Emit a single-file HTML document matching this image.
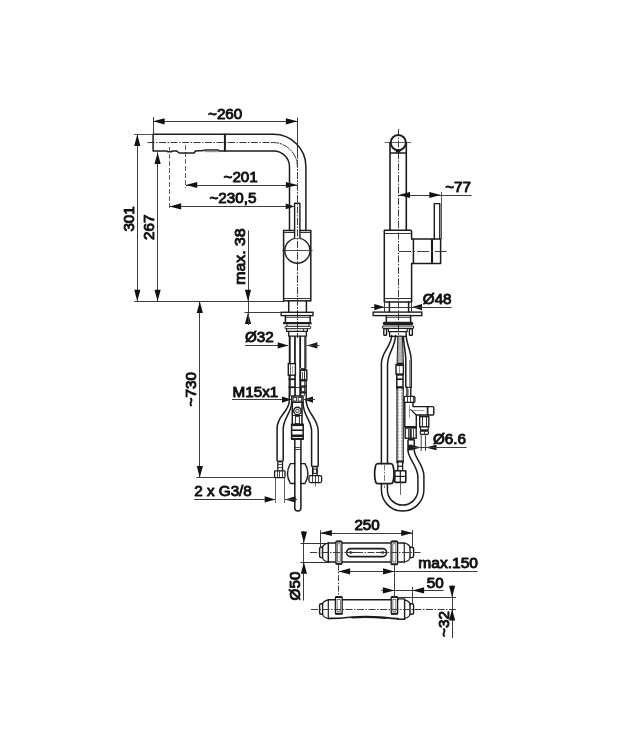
<!DOCTYPE html>
<html><head><meta charset="utf-8"><title>Dimension drawing</title>
<style>
html,body{margin:0;padding:0;background:#fff;}
body{width:642px;height:750px;overflow:hidden;font-family:"Liberation Sans",sans-serif;}
svg{display:block;}
text{font-family:"Liberation Sans",sans-serif;fill:#111;stroke:#111;stroke-width:0.9px;stroke-linejoin:round;}
svg{will-change:transform;}
</style></head><body>
<svg width="642" height="750" viewBox="0 0 642 750">
<rect width="642" height="750" fill="#fff"/>
<line x1="134" y1="134.5" x2="153" y2="134.5" stroke="#555" stroke-width="1.0" stroke-linecap="butt"/>
<line x1="153.5" y1="117" x2="153.5" y2="134" stroke="#3c3c3c" stroke-width="1.0" stroke-linecap="butt"/>
<line x1="297.5" y1="117.6" x2="297.5" y2="157" stroke="#3c3c3c" stroke-width="1.0" stroke-linecap="butt"/>
<line x1="153.1" y1="121.5" x2="297.4" y2="121.5" stroke="#3c3c3c" stroke-width="1.0" stroke-linecap="butt"/>
<polygon points="153.1,121.3 164.6,118.2 164.6,124.39999999999999" fill="#111"/>
<polygon points="297.4,121.3 285.9,118.2 285.9,124.39999999999999" fill="#111"/>
<line x1="185.7" y1="185.5" x2="297.4" y2="185.5" stroke="#3c3c3c" stroke-width="1.0" stroke-linecap="butt"/>
<polygon points="185.7,185 197.2,181.9 197.2,188.1" fill="#111"/>
<polygon points="297.4,185 285.9,181.9 285.9,188.1" fill="#111"/>
<line x1="169.6" y1="206.5" x2="294.8" y2="206.5" stroke="#3c3c3c" stroke-width="1.0" stroke-linecap="butt"/>
<polygon points="169.6,206.4 181.1,203.3 181.1,209.5" fill="#111"/>
<polygon points="294.5,206.4 285.7,203.6 285.7,209.20000000000002" fill="#111"/>
<line x1="185.5" y1="145" x2="185.5" y2="188" stroke="#3c3c3c" stroke-width="0.8" stroke-dasharray="5 2" stroke-linecap="butt"/>
<line x1="169.5" y1="147" x2="169.5" y2="209" stroke="#3c3c3c" stroke-width="0.8" stroke-dasharray="5 2" stroke-linecap="butt"/>
<line x1="137.5" y1="134.4" x2="137.5" y2="301.3" stroke="#3c3c3c" stroke-width="1.0" stroke-linecap="butt"/>
<polygon points="137.3,134.4 134.20000000000002,145.9 140.4,145.9" fill="#111"/>
<polygon points="137.3,301.3 134.20000000000002,289.8 140.4,289.8" fill="#111"/>
<line x1="157.5" y1="152.4" x2="157.5" y2="301.3" stroke="#3c3c3c" stroke-width="1.0" stroke-linecap="butt"/>
<polygon points="157.6,152.4 154.5,163.9 160.7,163.9" fill="#111"/>
<polygon points="157.6,301.3 154.5,289.8 160.7,289.8" fill="#111"/>
<line x1="134.3" y1="301.5" x2="284" y2="301.5" stroke="#3c3c3c" stroke-width="1.0" stroke-linecap="butt"/>
<line x1="199.5" y1="301.6" x2="199.5" y2="477.4" stroke="#3c3c3c" stroke-width="1.0" stroke-linecap="butt"/>
<polygon points="199.8,301.6 196.70000000000002,313.1 202.9,313.1" fill="#111"/>
<polygon points="199.8,477.4 196.70000000000002,465.9 202.9,465.9" fill="#111"/>
<line x1="196.5" y1="477.5" x2="275" y2="477.5" stroke="#3c3c3c" stroke-width="1.0" stroke-linecap="butt"/>
<line x1="248.5" y1="230.5" x2="248.5" y2="312.3" stroke="#3c3c3c" stroke-width="1.0" stroke-linecap="butt"/>
<polygon points="248,301.2 244.9,289.7 251.1,289.7" fill="#111"/>
<line x1="244.5" y1="312.5" x2="282" y2="312.5" stroke="#3c3c3c" stroke-width="1.0" stroke-linecap="butt"/>
<polygon points="248,312.5 244.9,324.0 251.1,324.0" fill="#111"/>
<line x1="248.5" y1="312.5" x2="248.5" y2="325" stroke="#3c3c3c" stroke-width="1.0" stroke-linecap="butt"/>
<line x1="245" y1="345.5" x2="288" y2="345.5" stroke="#3c3c3c" stroke-width="1.0" stroke-linecap="butt"/>
<polygon points="288.2,345.4 277.7,342.29999999999995 277.7,348.5" fill="#111"/>
<polygon points="306.9,345.4 317.4,342.29999999999995 317.4,348.5" fill="#111"/>
<line x1="306.9" y1="345.5" x2="319.5" y2="345.5" stroke="#3c3c3c" stroke-width="1.0" stroke-linecap="butt"/>
<line x1="232" y1="399.5" x2="291" y2="399.5" stroke="#3c3c3c" stroke-width="1.0" stroke-linecap="butt"/>
<polygon points="291.5,399.6 282.0,396.5 282.0,402.70000000000005" fill="#111"/>
<polygon points="303.5,399.6 313.0,396.5 313.0,402.70000000000005" fill="#111"/>
<line x1="303.5" y1="399.5" x2="315" y2="399.5" stroke="#3c3c3c" stroke-width="1.0" stroke-linecap="butt"/>
<line x1="194" y1="499.5" x2="275" y2="499.5" stroke="#3c3c3c" stroke-width="1.0" stroke-linecap="butt"/>
<polygon points="275.2,499.4 264.7,496.29999999999995 264.7,502.5" fill="#111"/>
<polygon points="285,499.4 295.5,496.29999999999995 295.5,502.5" fill="#111"/>
<line x1="285" y1="499.5" x2="297" y2="499.5" stroke="#3c3c3c" stroke-width="1.0" stroke-linecap="butt"/>
<line x1="275.5" y1="477" x2="275.5" y2="503" stroke="#3c3c3c" stroke-width="0.8" stroke-linecap="butt"/>
<line x1="284.5" y1="477" x2="284.5" y2="503" stroke="#3c3c3c" stroke-width="0.8" stroke-linecap="butt"/>
<line x1="297.5" y1="126" x2="297.5" y2="338" stroke="#3c3c3c" stroke-width="1.0" stroke-dasharray="7 1.5 1.5 1.5" stroke-linecap="butt"/>
<line x1="147.5" y1="142.5" x2="272" y2="142.5" stroke="#3c3c3c" stroke-width="1.0" stroke-dasharray="7 1.5 1.5 1.5" stroke-linecap="butt"/>
<path d="M272,142.5 H273.5 A24.3,24.3 0 0 1 297.4,166.8" stroke="#3c3c3c" stroke-width="1.0" fill="none" stroke-dasharray="7 1.5 1.5 1.5" stroke-linejoin="round" stroke-linecap="round"/>
<line x1="282.5" y1="250.5" x2="312.5" y2="250.5" stroke="#3c3c3c" stroke-width="0.7" stroke-linecap="butt"/>
<path d="M224.9,134.3 H153.1 V150.9 H166.5 L167.6,151.7 H171.4 L172.2,150.9 H176.5 L179.3,153 H194 L195.5,151 L203.9,150.6 L205.5,150 H217.8 L219.3,150.9 H224.9" stroke="#1c1c1c" stroke-width="1.5" fill="none" stroke-linejoin="round" stroke-linecap="round"/>
<line x1="205" y1="151.5" x2="218.5" y2="151.5" stroke="#999" stroke-width="1.4" stroke-linecap="butt"/>
<line x1="224.9" y1="134.3" x2="224.9" y2="150.9" stroke="#1c1c1c" stroke-width="2.0" stroke-linecap="butt"/>
<path d="M224.9,134.3 H273.5 A32.4,32.4 0 0 1 305.9,166.8 V230.5" stroke="#1c1c1c" stroke-width="1.5" fill="none" stroke-linejoin="round" stroke-linecap="round"/>
<path d="M224.9,150.9 H273.5 A15.9,15.9 0 0 1 289.5,166.8 V230.5" stroke="#1c1c1c" stroke-width="1.5" fill="none" stroke-linejoin="round" stroke-linecap="round"/>
<rect x="283.6" y="230.5" width="27.19999999999999" height="70.30000000000001" rx="0" stroke="#1c1c1c" stroke-width="1.5" fill="none"/>
<line x1="283.6" y1="232.5" x2="310.8" y2="232.5" stroke="#1c1c1c" stroke-width="0.9" stroke-linecap="butt"/>
<line x1="283.6" y1="298.5" x2="310.8" y2="298.5" stroke="#1c1c1c" stroke-width="0.9" stroke-linecap="butt"/>
<circle cx="297.4" cy="250.7" r="12.6" stroke="#1c1c1c" stroke-width="1.4" fill="none"/>
<path d="M294.6,238.6 V203.3 H299.9 V238.6 Z" stroke="#1c1c1c" stroke-width="1.4" fill="#fff" stroke-linejoin="round" stroke-linecap="round"/>
<line x1="294.6" y1="239.2" x2="299.9" y2="239.2" stroke="#fff" stroke-width="1.2" stroke-linecap="butt"/>
<line x1="297.5" y1="126" x2="297.5" y2="338" stroke="#3c3c3c" stroke-width="1.0" stroke-dasharray="7 1.5 1.5 1.5" stroke-linecap="butt"/>
<line x1="282.5" y1="250.5" x2="312.5" y2="250.5" stroke="#3c3c3c" stroke-width="0.7" stroke-linecap="butt"/>
<path d="M288.7,300.8 V312.3 M306.4,300.8 V312.3" stroke="#1c1c1c" stroke-width="1.5" fill="none" stroke-linejoin="round" stroke-linecap="round"/>
<rect x="281.2" y="312.3" width="31.80000000000001" height="3.3000000000000114" rx="0" stroke="#1c1c1c" stroke-width="1.4" fill="none"/>
<path d="M285.4,315.6 V322 M310.2,315.6 V322" stroke="#1c1c1c" stroke-width="1.5" fill="none" stroke-linejoin="round" stroke-linecap="round"/>
<line x1="285.4" y1="317.5" x2="310.2" y2="317.5" stroke="#1c1c1c" stroke-width="0.7" stroke-linecap="butt"/>
<line x1="283.1" y1="323.1" x2="311.6" y2="323.1" stroke="#1c1c1c" stroke-width="2.2" stroke-linecap="butt"/>
<path d="M287,324.2 V326.3 M309,324.2 V326.3" stroke="#1c1c1c" stroke-width="0.9" fill="none" stroke-linejoin="round" stroke-linecap="round"/>
<rect x="285" y="326.3" width="25.69999999999999" height="2.3999999999999773" rx="0.8" stroke="#1c1c1c" stroke-width="1.0" fill="none"/>
<path d="M286.6,328.7 V331.4 H307.4 V328.7" stroke="#1c1c1c" stroke-width="1.15" fill="none" stroke-linejoin="round" stroke-linecap="round"/>
<path d="M288.7,331.4 V336.2 H306.4 V331.4" stroke="#1c1c1c" stroke-width="1.3" fill="none" stroke-linejoin="round" stroke-linecap="round"/>
<line x1="303.5" y1="329" x2="303.5" y2="331.4" stroke="#1c1c1c" stroke-width="0.8" stroke-linecap="butt"/>
<line x1="289.4" y1="336.2" x2="289.4" y2="364" stroke="#1c1c1c" stroke-width="1.3" stroke-linecap="butt"/>
<line x1="294.7" y1="336.2" x2="294.7" y2="364" stroke="#1c1c1c" stroke-width="1.3" stroke-linecap="butt"/>
<line x1="300.4" y1="336.2" x2="300.4" y2="368" stroke="#1c1c1c" stroke-width="1.3" stroke-linecap="butt"/>
<line x1="305.8" y1="336.2" x2="305.8" y2="368" stroke="#1c1c1c" stroke-width="1.3" stroke-linecap="butt"/>
<line x1="290.5" y1="336.2" x2="290.5" y2="396" stroke="#1c1c1c" stroke-width="0.7" stroke-linecap="butt"/>
<line x1="295.5" y1="336.2" x2="295.5" y2="396" stroke="#1c1c1c" stroke-width="0.7" stroke-linecap="butt"/>
<line x1="299.5" y1="336.2" x2="299.5" y2="396" stroke="#1c1c1c" stroke-width="0.7" stroke-linecap="butt"/>
<line x1="304.5" y1="336.2" x2="304.5" y2="396" stroke="#1c1c1c" stroke-width="0.7" stroke-linecap="butt"/>
<rect x="288.3" y="363.6" width="7.099999999999966" height="11.599999999999966" rx="0" stroke="#1c1c1c" stroke-width="1.4" fill="none"/>
<line x1="288.6" y1="379.2" x2="295.2" y2="379.2" stroke="#1c1c1c" stroke-width="1.8" stroke-linecap="butt"/>
<line x1="288.6" y1="387.2" x2="295.2" y2="387.2" stroke="#1c1c1c" stroke-width="1.8" stroke-linecap="butt"/>
<path d="M289.3,375.2 V396 M294.9,375.2 V396" stroke="#1c1c1c" stroke-width="1.4" fill="none" stroke-linejoin="round" stroke-linecap="round"/>
<line x1="292.5" y1="366" x2="292.5" y2="373.4" stroke="#999" stroke-width="0.8" stroke-linecap="butt"/>
<line x1="300.4" y1="369.2" x2="306.4" y2="369.2" stroke="#1c1c1c" stroke-width="2.0" stroke-linecap="butt"/>
<rect x="300.4" y="370.2" width="6.400000000000034" height="9.600000000000023" rx="0" stroke="#1c1c1c" stroke-width="1.4" fill="none"/>
<line x1="300.6" y1="380.6" x2="306.6" y2="380.6" stroke="#1c1c1c" stroke-width="1.7" stroke-linecap="butt"/>
<line x1="300.6" y1="386.1" x2="306.6" y2="386.1" stroke="#1c1c1c" stroke-width="1.5" stroke-linecap="butt"/>
<line x1="300.6" y1="392.6" x2="306.6" y2="392.6" stroke="#1c1c1c" stroke-width="1.7" stroke-linecap="butt"/>
<path d="M300.6,380 V396 M306.2,380 V401" stroke="#1c1c1c" stroke-width="1.4" fill="none" stroke-linejoin="round" stroke-linecap="round"/>
<line x1="302.5" y1="372" x2="302.5" y2="379" stroke="#1c1c1c" stroke-width="0.7" stroke-linecap="butt"/>
<line x1="304.5" y1="372" x2="304.5" y2="379" stroke="#1c1c1c" stroke-width="0.7" stroke-linecap="butt"/>
<rect x="301.6" y="387.5" width="3.3999999999999773" height="3.8999999999999773" rx="0" stroke="#1c1c1c" stroke-width="0.8" fill="none"/>
<line x1="295.9" y1="387.5" x2="299.9" y2="387.5" stroke="#1c1c1c" stroke-width="0.8" stroke-linecap="butt"/>
<rect x="291.8" y="396" width="11.199999999999989" height="6.199999999999989" rx="0" stroke="#1c1c1c" stroke-width="1.5" fill="none"/>
<rect x="293.2" y="397.5" width="3.400000000000034" height="3.5" rx="0" stroke="#1c1c1c" stroke-width="0.8" fill="none"/>
<rect x="298.2" y="397.5" width="3.400000000000034" height="3.5" rx="0" stroke="#1c1c1c" stroke-width="0.8" fill="none"/>
<path d="M289.3,396 V401.6 C288.5,412 277.1,416 277.1,428 V460.5" stroke="#1c1c1c" stroke-width="1.5" fill="none" stroke-linejoin="round" stroke-linecap="round"/>
<path d="M291.8,402.2 C291.5,413 283.2,418 283.2,429 V460.5" stroke="#1c1c1c" stroke-width="1.5" fill="none" stroke-linejoin="round" stroke-linecap="round"/>
<path d="M306.2,401 C306.5,413 318.2,418 318.2,431 V466" stroke="#1c1c1c" stroke-width="1.5" fill="none" stroke-linejoin="round" stroke-linecap="round"/>
<path d="M303,402.2 C303,416 311.6,420 311.6,431 V466" stroke="#1c1c1c" stroke-width="1.5" fill="none" stroke-linejoin="round" stroke-linecap="round"/>
<path d="M292.3,402.2 V424.3 M302,402.2 V424.3" stroke="#1c1c1c" stroke-width="1.5" fill="none" stroke-linejoin="round" stroke-linecap="round"/>
<circle cx="297.4" cy="410.9" r="3.7" stroke="#1c1c1c" stroke-width="1.4" fill="none"/>
<circle cx="297.4" cy="410.9" r="1.7" stroke="#1c1c1c" stroke-width="0.9" fill="none"/>
<line x1="292.3" y1="415.5" x2="302" y2="415.5" stroke="#1c1c1c" stroke-width="1.0" stroke-linecap="butt"/>
<rect x="295.4" y="416.6" width="4.0" height="7.0" rx="0" stroke="#1c1c1c" stroke-width="0.9" fill="none"/>
<rect x="291.6" y="424.3" width="11.599999999999966" height="14.899999999999977" rx="0" stroke="#1c1c1c" stroke-width="1.5" fill="none"/>
<line x1="291.6" y1="425.2" x2="303.2" y2="425.2" stroke="#1c1c1c" stroke-width="1.8" stroke-linecap="butt"/>
<line x1="292" y1="430.2" x2="303" y2="430.2" stroke="#1c1c1c" stroke-width="1.6" stroke-linecap="butt"/>
<line x1="292" y1="435.8" x2="303" y2="435.8" stroke="#1c1c1c" stroke-width="2.6" stroke-linecap="butt"/>
<line x1="292" y1="438.6" x2="303" y2="438.6" stroke="#1c1c1c" stroke-width="1.2" stroke-linecap="butt"/>
<path d="M294.8,439.2 V507.9 A3.05,3.05 0 0 0 300.9,507.9 V439.2" stroke="#1c1c1c" stroke-width="1.5" fill="none" stroke-linejoin="round" stroke-linecap="round"/>
<line x1="295" y1="447.5" x2="300.4" y2="447.5" stroke="#1c1c1c" stroke-width="0.8" stroke-linecap="butt"/>
<line x1="295" y1="449.5" x2="300.4" y2="449.5" stroke="#1c1c1c" stroke-width="0.8" stroke-linecap="butt"/>
<line x1="277.3" y1="461.4" x2="283" y2="461.4" stroke="#1c1c1c" stroke-width="1.8" stroke-linecap="butt"/>
<path d="M277.8,462 V470.5 M282.5,462 V470.5" stroke="#1c1c1c" stroke-width="1.3" fill="none" stroke-linejoin="round" stroke-linecap="round"/>
<line x1="278" y1="464.5" x2="282.3" y2="464.5" stroke="#1c1c1c" stroke-width="0.7" stroke-linecap="butt"/>
<line x1="278" y1="467.5" x2="282.3" y2="467.5" stroke="#1c1c1c" stroke-width="0.7" stroke-linecap="butt"/>
<rect x="274.6" y="470.8" width="10.399999999999977" height="6.800000000000011" rx="0.8" stroke="#1c1c1c" stroke-width="1.3" fill="none"/>
<line x1="277.5" y1="471" x2="277.5" y2="477.4" stroke="#1c1c1c" stroke-width="0.8" stroke-linecap="butt"/>
<line x1="279.5" y1="471" x2="279.5" y2="477.4" stroke="#1c1c1c" stroke-width="0.8" stroke-linecap="butt"/>
<line x1="282.5" y1="471" x2="282.5" y2="477.4" stroke="#1c1c1c" stroke-width="0.8" stroke-linecap="butt"/>
<line x1="311.8" y1="466.5" x2="318" y2="466.5" stroke="#1c1c1c" stroke-width="1.6" stroke-linecap="butt"/>
<path d="M312.6,467 V475.4 M317.2,467 V475.4" stroke="#1c1c1c" stroke-width="1.3" fill="none" stroke-linejoin="round" stroke-linecap="round"/>
<rect x="313.2" y="469" width="3.400000000000034" height="4.399999999999977" rx="0" stroke="#1c1c1c" stroke-width="1.0" fill="none"/>
<rect x="309" y="475.6" width="12.600000000000023" height="7.0" rx="1.5" stroke="#1c1c1c" stroke-width="1.3" fill="none"/>
<line x1="312.5" y1="476" x2="312.5" y2="482.4" stroke="#1c1c1c" stroke-width="0.8" stroke-linecap="butt"/>
<line x1="315.5" y1="476" x2="315.5" y2="482.4" stroke="#1c1c1c" stroke-width="0.8" stroke-linecap="butt"/>
<line x1="318.5" y1="476" x2="318.5" y2="482.4" stroke="#1c1c1c" stroke-width="0.8" stroke-linecap="butt"/>
<line x1="315.5" y1="482.6" x2="315.5" y2="486.5" stroke="#3c3c3c" stroke-width="0.7" stroke-linecap="butt"/>
<path d="M294.8,463.6 H290.4 Q284.6,473.5 290.4,483.5 H294.8 M300.9,463.6 H305 Q310.8,473.5 305,483.5 H300.9" stroke="#1c1c1c" stroke-width="1.4" fill="none" stroke-linejoin="round" stroke-linecap="round"/>
<line x1="398.5" y1="129" x2="398.5" y2="337" stroke="#3c3c3c" stroke-width="1.0" stroke-dasharray="7 1.5 1.5 1.5" stroke-linecap="butt"/>
<line x1="384.7" y1="142.5" x2="411.2" y2="142.5" stroke="#3c3c3c" stroke-width="0.8" stroke-linecap="butt"/>
<circle cx="398.3" cy="142.6" r="7.6" stroke="#1c1c1c" stroke-width="1.9" fill="none"/>
<path d="M390,142.6 V230.3 M406.3,142.6 V230.3" stroke="#1c1c1c" stroke-width="1.6" fill="none" stroke-linejoin="round" stroke-linecap="round"/>
<line x1="390.3" y1="153" x2="406.3" y2="153" stroke="#1c1c1c" stroke-width="1.5" stroke-linecap="butt"/>
<line x1="395.8" y1="151.6" x2="400.4" y2="151.6" stroke="#1c1c1c" stroke-width="2.0" stroke-linecap="butt"/>
<line x1="398.5" y1="195.5" x2="471.4" y2="195.5" stroke="#3c3c3c" stroke-width="1.0" stroke-linecap="butt"/>
<polygon points="398.5,195 410.0,191.9 410.0,198.1" fill="#111"/>
<polygon points="440.8,195 429.3,191.9 429.3,198.1" fill="#111"/>
<line x1="441.5" y1="192" x2="441.5" y2="239" stroke="#555" stroke-width="1.0" stroke-linecap="butt"/>
<path d="M434.3,239 V203.6 H439.8 V239" stroke="#1c1c1c" stroke-width="1.4" fill="none" stroke-linejoin="round" stroke-linecap="round"/>
<path d="M411.6,239 V231.4 Q411.6,230.3 410.5,230.3 H384.3 V302 H411.6 V263.6" stroke="#1c1c1c" stroke-width="1.5" fill="none" stroke-linejoin="round" stroke-linecap="round"/>
<line x1="384.3" y1="233.5" x2="411.6" y2="233.5" stroke="#1c1c1c" stroke-width="0.9" stroke-linecap="butt"/>
<line x1="384.3" y1="298.5" x2="411.6" y2="298.5" stroke="#1c1c1c" stroke-width="0.9" stroke-linecap="butt"/>
<path d="M411.6,239 H440.6 V263.6 H411.6" stroke="#1c1c1c" stroke-width="1.5" fill="none" stroke-linejoin="round" stroke-linecap="round"/>
<line x1="413.4" y1="239" x2="413.4" y2="263.6" stroke="#1c1c1c" stroke-width="1.5" stroke-linecap="butt"/>
<line x1="432" y1="239" x2="432" y2="263.6" stroke="#1c1c1c" stroke-width="2.1" stroke-linecap="butt"/>
<line x1="399" y1="251.5" x2="446.7" y2="251.5" stroke="#3c3c3c" stroke-width="1.0" stroke-dasharray="12 2 2 2" stroke-linecap="butt"/>
<path d="M389.4,302 V312.1 M408.6,302 V312.1" stroke="#1c1c1c" stroke-width="1.5" fill="none" stroke-linejoin="round" stroke-linecap="round"/>
<rect x="373.2" y="312.1" width="48.60000000000002" height="3.5" rx="0" stroke="#1c1c1c" stroke-width="1.4" fill="none"/>
<path d="M386.3,315.6 V322.3 M410.6,315.6 V322.3" stroke="#1c1c1c" stroke-width="1.5" fill="none" stroke-linejoin="round" stroke-linecap="round"/>
<line x1="386.3" y1="317.5" x2="410.6" y2="317.5" stroke="#1c1c1c" stroke-width="0.7" stroke-linecap="butt"/>
<line x1="384.4" y1="323.4" x2="411.6" y2="323.4" stroke="#1c1c1c" stroke-width="3.2" stroke-linecap="round"/>
<rect x="382.6" y="326" width="31.0" height="2.3999999999999773" rx="0.8" stroke="#1c1c1c" stroke-width="1.1" fill="none"/>
<rect x="383.8" y="328.9" width="2.8000000000000114" height="6.300000000000011" rx="0.8" stroke="#1c1c1c" stroke-width="1.4" fill="none"/>
<rect x="409.4" y="328.9" width="3.0" height="6.300000000000011" rx="0.8" stroke="#1c1c1c" stroke-width="1.4" fill="none"/>
<path d="M388.4,328.6 V331.6 H407.2 V328.6" stroke="#1c1c1c" stroke-width="1.15" fill="none" stroke-linejoin="round" stroke-linecap="round"/>
<path d="M389.6,331.8 V336.4 H406.2 V331.8" stroke="#1c1c1c" stroke-width="1.4" fill="none" stroke-linejoin="round" stroke-linecap="round"/>
<line x1="384.5" y1="302" x2="384.5" y2="312.1" stroke="#3c3c3c" stroke-width="1.0" stroke-linecap="butt"/>
<line x1="411.5" y1="302" x2="411.5" y2="312.1" stroke="#3c3c3c" stroke-width="1.0" stroke-linecap="butt"/>
<line x1="384.3" y1="307.5" x2="412" y2="307.5" stroke="#3c3c3c" stroke-width="1.0" stroke-linecap="butt"/>
<line x1="371" y1="307.5" x2="384" y2="307.5" stroke="#3c3c3c" stroke-width="1.0" stroke-linecap="butt"/>
<polygon points="384.3,307.1 374.3,304.0 374.3,310.20000000000005" fill="#111"/>
<polygon points="412,307.1 422,304.0 422,310.20000000000005" fill="#111"/>
<line x1="412" y1="307.5" x2="451.5" y2="307.5" stroke="#3c3c3c" stroke-width="1.0" stroke-linecap="butt"/>
<path d="M391.8,335.6 C390.5,348 381.4,352 381.4,364 V463.7" stroke="#1c1c1c" stroke-width="1.5" fill="none" stroke-linejoin="round" stroke-linecap="round"/>
<path d="M395.6,335.6 C394.6,349 387.5,353 387.5,365 V463.8" stroke="#1c1c1c" stroke-width="1.5" fill="none" stroke-linejoin="round" stroke-linecap="round"/>
<path d="M406.2,336.4 C407,345 411.2,352 411.2,360 V387" stroke="#1c1c1c" stroke-width="1.5" fill="none" stroke-linejoin="round" stroke-linecap="round"/>
<path d="M403.4,336.4 C403.6,345 405.8,352 405.8,360 V387" stroke="#1c1c1c" stroke-width="1.5" fill="none" stroke-linejoin="round" stroke-linecap="round"/>
<line x1="409.5" y1="360" x2="409.5" y2="387" stroke="#555" stroke-width="0.7" stroke-linecap="butt"/>
<line x1="405.8" y1="387.5" x2="411.2" y2="387.5" stroke="#1c1c1c" stroke-width="1.0" stroke-linecap="butt"/>
<path d="M397.8,336.6 C397.8,345 397.2,355 397,365.6 H403.4 C403.2,355 402.8,345 402.4,336.6 Z" stroke="#1c1c1c" stroke-width="1.0" fill="#a8a8a8" stroke-linejoin="round" stroke-linecap="round"/>
<path d="M400,337 C400,346 400,356 400.2,365" stroke="#ddd" stroke-width="0.8" fill="none" stroke-dasharray="1.2 2.2" stroke-linejoin="round" stroke-linecap="round"/>
<line x1="397" y1="363.5" x2="403" y2="363.5" stroke="#1c1c1c" stroke-width="1.5" stroke-linecap="butt"/>
<rect x="396" y="364.7" width="7.399999999999977" height="9.400000000000034" rx="0" stroke="#1c1c1c" stroke-width="1.4" fill="none"/>
<line x1="399.5" y1="366" x2="399.5" y2="373" stroke="#888" stroke-width="0.9" stroke-linecap="butt"/>
<line x1="396.4" y1="374.9" x2="403.2" y2="374.9" stroke="#1c1c1c" stroke-width="1.6" stroke-linecap="butt"/>
<line x1="396.4" y1="379.2" x2="403.2" y2="379.2" stroke="#1c1c1c" stroke-width="1.7" stroke-linecap="butt"/>
<line x1="396.4" y1="387.3" x2="403.2" y2="387.3" stroke="#1c1c1c" stroke-width="2.3" stroke-linecap="butt"/>
<path d="M396.8,374.1 V388.5 M403,374.1 V388.5" stroke="#1c1c1c" stroke-width="1.5" fill="none" stroke-linejoin="round" stroke-linecap="round"/>
<path d="M397,388 V462.8 M403.2,388 V462.8" stroke="#1c1c1c" stroke-width="1.25" fill="none" stroke-linejoin="round" stroke-linecap="round"/>
<line x1="398.5" y1="389" x2="398.5" y2="462" stroke="#666" stroke-width="0.6" stroke-dasharray="2 1.2" stroke-linecap="butt"/>
<line x1="401.5" y1="389" x2="401.5" y2="462" stroke="#666" stroke-width="0.6" stroke-dasharray="2 1.2" stroke-linecap="butt"/>
<path d="M407,387 V396.4 M410.8,387 V396.4" stroke="#1c1c1c" stroke-width="1.4" fill="none" stroke-linejoin="round" stroke-linecap="round"/>
<line x1="408.5" y1="389" x2="408.5" y2="395" stroke="#888" stroke-width="0.8" stroke-linecap="butt"/>
<rect x="404.2" y="396.4" width="10.699999999999989" height="6.0" rx="1" stroke="#1c1c1c" stroke-width="1.3" fill="none"/>
<line x1="407.5" y1="396.8" x2="407.5" y2="402" stroke="#1c1c1c" stroke-width="0.8" stroke-linecap="butt"/>
<line x1="410.5" y1="396.8" x2="410.5" y2="402" stroke="#1c1c1c" stroke-width="0.8" stroke-linecap="butt"/>
<line x1="413.5" y1="396.8" x2="413.5" y2="402" stroke="#1c1c1c" stroke-width="0.8" stroke-linecap="butt"/>
<path d="M404.8,402.4 V426.7 M413,402.4 V406.6 H432.6 Q433.8,406.6 433.8,407.8 V413.8 Q433.8,415 432.6,415 H416.3 V426.7" stroke="#1c1c1c" stroke-width="1.45" fill="none" stroke-linejoin="round" stroke-linecap="round"/>
<line x1="427.6" y1="406.6" x2="427.6" y2="415" stroke="#1c1c1c" stroke-width="1.7" stroke-linecap="butt"/>
<path d="M410.6,409.6 L416.3,415" stroke="#1c1c1c" stroke-width="1.15" fill="none" stroke-linejoin="round" stroke-linecap="round"/>
<line x1="409.5" y1="405.2" x2="409.5" y2="418" stroke="#555" stroke-width="0.6" stroke-linecap="butt"/>
<line x1="411" y1="410.5" x2="424.5" y2="410.5" stroke="#555" stroke-width="0.6" stroke-linecap="butt"/>
<path d="M420.4,415 V416.6 M428,415 V416.6" stroke="#1c1c1c" stroke-width="1.15" fill="none" stroke-linejoin="round" stroke-linecap="round"/>
<rect x="419.7" y="416.6" width="9.100000000000023" height="10.199999999999989" rx="0" stroke="#1c1c1c" stroke-width="1.4" fill="none"/>
<line x1="422.5" y1="417" x2="422.5" y2="426.4" stroke="#1c1c1c" stroke-width="0.9" stroke-linecap="butt"/>
<line x1="426.5" y1="417" x2="426.5" y2="426.4" stroke="#1c1c1c" stroke-width="0.9" stroke-linecap="butt"/>
<path d="M420.4,426.8 V429.4 M428.2,426.8 V429.4" stroke="#1c1c1c" stroke-width="1.15" fill="none" stroke-linejoin="round" stroke-linecap="round"/>
<line x1="420.2" y1="430.2" x2="428.4" y2="430.2" stroke="#1c1c1c" stroke-width="1.8" stroke-linecap="butt"/>
<rect x="420.2" y="431.2" width="8.199999999999989" height="3.1999999999999886" rx="0.8" stroke="#1c1c1c" stroke-width="1.2" fill="none"/>
<line x1="424.5" y1="431.4" x2="424.5" y2="434.2" stroke="#1c1c1c" stroke-width="0.8" stroke-linecap="butt"/>
<path d="M421.2,434.6 V450.5 M425.5,434.6 V450.5" stroke="#444" stroke-width="1.0" fill="none" stroke-linejoin="round" stroke-linecap="round"/>
<rect x="405.2" y="426.7" width="11.0" height="11.5" rx="0" stroke="#1c1c1c" stroke-width="1.4" fill="none"/>
<line x1="405.4" y1="427.8" x2="416" y2="427.8" stroke="#1c1c1c" stroke-width="1.8" stroke-linecap="butt"/>
<line x1="408.5" y1="429" x2="408.5" y2="438" stroke="#1c1c1c" stroke-width="0.8" stroke-linecap="butt"/>
<line x1="410.6" y1="429" x2="410.6" y2="438" stroke="#1c1c1c" stroke-width="2.2" stroke-linecap="butt"/>
<line x1="413.5" y1="429" x2="413.5" y2="438" stroke="#1c1c1c" stroke-width="0.8" stroke-linecap="butt"/>
<line x1="407.8" y1="439.6" x2="414.6" y2="439.6" stroke="#1c1c1c" stroke-width="1.9" stroke-linecap="butt"/>
<path d="M408,440.4 V450.5 M414.3,440.4 V450.5" stroke="#1c1c1c" stroke-width="1.5" fill="none" stroke-linejoin="round" stroke-linecap="round"/>
<polygon points="421.2,447.5 410.7,444.8 410.7,450.2" fill="#111"/>
<polygon points="425.5,447.5 436.5,444.8 436.5,450.2" fill="#111"/>
<line x1="410" y1="447.5" x2="466.6" y2="447.5" stroke="#3c3c3c" stroke-width="1.0" stroke-linecap="butt"/>
<rect x="408.6" y="445.2" width="3.1999999999999886" height="4.600000000000023" rx="0" stroke="#1c1c1c" stroke-width="1.0" fill="#1c1c1c"/>
<path d="M381.4,483.8 V489.85 A21.25,21.25 0 0 0 423.9,489.85 V476 C423.9,465 414.6,458 414.3,450.5" stroke="#1c1c1c" stroke-width="1.5" fill="none" stroke-linejoin="round" stroke-linecap="round"/>
<path d="M387.4,483.8 V489.85 A15.25,15.25 0 0 0 417.9,489.85 V477 C417.9,466 408.3,459 408,450.5" stroke="#1c1c1c" stroke-width="1.5" fill="none" stroke-linejoin="round" stroke-linecap="round"/>
<path d="M378,463.7 H390.6 Q392.6,463.7 393,465.6 Q395,473.7 393,481.8 Q392.6,483.7 390.6,483.7 H378 Q376,483.7 375.6,481.8 Q373.6,473.7 375.6,465.6 Q376,463.7 378,463.7 Z" stroke="#1c1c1c" stroke-width="1.7" fill="none" stroke-linejoin="round" stroke-linecap="round"/>
<line x1="384.5" y1="464.5" x2="384.5" y2="488" stroke="#3c3c3c" stroke-width="0.7" stroke-dasharray="6 1.5 1.5 1.5" stroke-linecap="butt"/>
<line x1="396.8" y1="461.5" x2="403.4" y2="461.5" stroke="#1c1c1c" stroke-width="2.0" stroke-linecap="butt"/>
<path d="M397.8,462.5 V470.4 M402.6,462.5 V470.4" stroke="#1c1c1c" stroke-width="1.3" fill="none" stroke-linejoin="round" stroke-linecap="round"/>
<line x1="397.8" y1="466.2" x2="402.6" y2="466.2" stroke="#1c1c1c" stroke-width="1.2" stroke-linecap="butt"/>
<rect x="394.8" y="470.7" width="11.0" height="11.699999999999989" rx="0.6" stroke="#1c1c1c" stroke-width="1.6" fill="none"/>
<line x1="395" y1="476.4" x2="405.6" y2="476.4" stroke="#1c1c1c" stroke-width="1.2" stroke-linecap="butt"/>
<line x1="400.3" y1="471" x2="400.3" y2="482" stroke="#1c1c1c" stroke-width="1.2" stroke-linecap="butt"/>
<line x1="400.5" y1="482.4" x2="400.5" y2="494.8" stroke="#3c3c3c" stroke-width="0.8" stroke-linecap="butt"/>
<line x1="300.5" y1="543.5" x2="329" y2="543.5" stroke="#333" stroke-width="1.0" stroke-linecap="butt"/>
<line x1="300.5" y1="562.5" x2="329" y2="562.5" stroke="#333" stroke-width="1.0" stroke-linecap="butt"/>
<path d="M328.3,543 C324.6,543.6 322.4,546 322.4,547.8 M322.4,557.0 C322.4,559 324.6,561.4 328.3,562" stroke="#1c1c1c" stroke-width="1.25" fill="none" stroke-linejoin="round" stroke-linecap="round"/>
<path d="M404.3,543 C408,543.6 410.2,546 410.2,547.8 M410.2,557.0 C410.2,559 408,561.4 404.3,562" stroke="#1c1c1c" stroke-width="1.25" fill="none" stroke-linejoin="round" stroke-linecap="round"/>
<path d="M322.6,547.1999999999999 H321 Q319.6,547.1999999999999 319.6,548.6999999999999 V556.1 Q319.6,557.6 321,557.6 H322.6 Z" stroke="#1c1c1c" stroke-width="1.4" fill="none" stroke-linejoin="round" stroke-linecap="round"/>
<path d="M410,547.1999999999999 H412 Q413.6,547.1999999999999 413.6,548.6999999999999 V556.1 Q413.6,557.6 412,557.6 H410 Z" stroke="#1c1c1c" stroke-width="1.4" fill="none" stroke-linejoin="round" stroke-linecap="round"/>
<path d="M328.3,543 H404.3 M328.3,562 H404.3" stroke="#1c1c1c" stroke-width="1.6" fill="none" stroke-linejoin="round" stroke-linecap="round"/>
<line x1="328.3" y1="543" x2="328.3" y2="562" stroke="#1c1c1c" stroke-width="1.5" stroke-linecap="butt"/>
<line x1="404.3" y1="543" x2="404.3" y2="562" stroke="#1c1c1c" stroke-width="1.1" stroke-linecap="butt"/>
<rect x="335.9" y="541.2" width="6.0" height="23.0" rx="1.2" stroke="#1c1c1c" stroke-width="1.3" fill="#fff"/>
<line x1="336.5" y1="541.7" x2="341.29999999999995" y2="541.7" stroke="#1c1c1c" stroke-width="1.8" stroke-linecap="round"/>
<line x1="336.5" y1="563.7" x2="341.29999999999995" y2="563.7" stroke="#1c1c1c" stroke-width="1.8" stroke-linecap="round"/>
<rect x="337.59999999999997" y="543.8000000000001" width="2.6000000000000227" height="17.799999999999955" rx="0" stroke="#444" stroke-width="0.7" fill="none"/>
<rect x="391.1" y="541.2" width="6.5" height="23.399999999999977" rx="1.2" stroke="#1c1c1c" stroke-width="1.3" fill="#fff"/>
<line x1="391.70000000000005" y1="541.7" x2="397.0" y2="541.7" stroke="#1c1c1c" stroke-width="1.8" stroke-linecap="round"/>
<line x1="391.70000000000005" y1="564.1" x2="397.0" y2="564.1" stroke="#1c1c1c" stroke-width="1.8" stroke-linecap="round"/>
<rect x="392.8" y="543.8000000000001" width="3.1000000000000227" height="18.199999999999932" rx="0" stroke="#444" stroke-width="0.7" fill="none"/>
<rect x="346.6" y="548.6" width="40.0" height="8.0" rx="4" stroke="#1c1c1c" stroke-width="1.6" fill="none"/>
<polygon points="349.6,551 349.6,554 354.6,552.5" fill="#222"/><polygon points="383.6,551 383.6,554 378.6,552.5" fill="#222"/>
<line x1="349" y1="552.5" x2="357" y2="552.5" stroke="#1c1c1c" stroke-width="0.9" stroke-linecap="butt"/>
<line x1="376" y1="552.5" x2="384" y2="552.5" stroke="#1c1c1c" stroke-width="0.9" stroke-linecap="butt"/>
<line x1="310" y1="552.5" x2="422" y2="552.5" stroke="#3c3c3c" stroke-width="1.0" stroke-dasharray="7 1.5 1.5 1.5" stroke-linecap="butt"/>
<path d="M328.3,599.8 C324.6,600.4 322.4,602.8 322.4,604.4 M322.4,613.6 C322.4,615.6 324.6,618.0 328.3,618.6" stroke="#1c1c1c" stroke-width="1.25" fill="none" stroke-linejoin="round" stroke-linecap="round"/>
<path d="M404.3,599.8 C408,600.4 410.2,602.8 410.2,604.4 M410.2,613.6 C410.2,615.6 408,618.0 404.3,618.6" stroke="#1c1c1c" stroke-width="1.25" fill="none" stroke-linejoin="round" stroke-linecap="round"/>
<path d="M322.6,603.8 H321 Q319.6,603.8 319.6,605.3 V612.7 Q319.6,614.2 321,614.2 H322.6 Z" stroke="#1c1c1c" stroke-width="1.4" fill="none" stroke-linejoin="round" stroke-linecap="round"/>
<path d="M410,603.8 H412 Q413.6,603.8 413.6,605.3 V612.7 Q413.6,614.2 412,614.2 H410 Z" stroke="#1c1c1c" stroke-width="1.4" fill="none" stroke-linejoin="round" stroke-linecap="round"/>
<path d="M328.3,599.8 H398 M328.3,618.4 C338,618.6 343,618 350,617.2 C362,616.4 374,616.6 384,617.4 C390,618.2 394,618.6 398,618.6" stroke="#1c1c1c" stroke-width="1.6" fill="none" stroke-linejoin="round" stroke-linecap="round"/>
<path d="M352,617.6 C362,616.9 374,617.1 386,618.2" stroke="#1c1c1c" stroke-width="1.6" fill="none" stroke-linejoin="round" stroke-linecap="round"/>
<line x1="328.3" y1="599.8" x2="328.3" y2="618.4" stroke="#1c1c1c" stroke-width="1.2" stroke-linecap="butt"/>
<path d="M397.6,598.9 H404.6 V619.2 H397.6" stroke="#1c1c1c" stroke-width="1.4" fill="none" stroke-linejoin="round" stroke-linecap="round"/>
<rect x="335.4" y="596.7" width="6.800000000000011" height="17.5" rx="1.2" stroke="#1c1c1c" stroke-width="1.3" fill="#fff"/>
<line x1="336.0" y1="597.2" x2="341.59999999999997" y2="597.2" stroke="#1c1c1c" stroke-width="1.8" stroke-linecap="round"/>
<line x1="336.0" y1="613.7" x2="341.59999999999997" y2="613.7" stroke="#1c1c1c" stroke-width="1.8" stroke-linecap="round"/>
<rect x="337.09999999999997" y="599.3000000000001" width="3.400000000000034" height="12.299999999999955" rx="0" stroke="#444" stroke-width="0.7" fill="none"/>
<rect x="391.2" y="596.7" width="6.400000000000034" height="17.5" rx="1.2" stroke="#1c1c1c" stroke-width="1.3" fill="#fff"/>
<line x1="391.8" y1="597.2" x2="397.0" y2="597.2" stroke="#1c1c1c" stroke-width="1.8" stroke-linecap="round"/>
<line x1="391.8" y1="613.7" x2="397.0" y2="613.7" stroke="#1c1c1c" stroke-width="1.8" stroke-linecap="round"/>
<rect x="392.9" y="599.3000000000001" width="3.000000000000057" height="12.299999999999955" rx="0" stroke="#444" stroke-width="0.7" fill="none"/>
<line x1="311" y1="609.5" x2="456" y2="609.5" stroke="#3c3c3c" stroke-width="1.0" stroke-dasharray="7 1.5 1.5 1.5" stroke-linecap="butt"/>
<line x1="396.4" y1="597.5" x2="456" y2="597.5" stroke="#3c3c3c" stroke-width="1.0" stroke-linecap="butt"/>
<line x1="320.5" y1="530.2" x2="320.5" y2="547.4" stroke="#3c3c3c" stroke-width="1.0" stroke-linecap="butt"/>
<line x1="412.5" y1="530.2" x2="412.5" y2="547.4" stroke="#3c3c3c" stroke-width="1.0" stroke-linecap="butt"/>
<line x1="320.3" y1="533.5" x2="412.7" y2="533.5" stroke="#3c3c3c" stroke-width="1.0" stroke-linecap="butt"/>
<polygon points="320.3,533 331.8,529.9 331.8,536.1" fill="#111"/>
<polygon points="412.7,533 401.2,529.9 401.2,536.1" fill="#111"/>
<line x1="303.5" y1="531" x2="303.5" y2="600.6" stroke="#3c3c3c" stroke-width="1.0" stroke-linecap="butt"/>
<polygon points="303.9,543 300.79999999999995,531.5 307.0,531.5" fill="#111"/>
<polygon points="303.9,562.2 300.79999999999995,573.7 307.0,573.7" fill="#111"/>
<line x1="338.5" y1="564.6" x2="338.5" y2="597" stroke="#3c3c3c" stroke-width="1.0" stroke-dasharray="6 1.5 1.5 1.5" stroke-linecap="butt"/>
<line x1="394.5" y1="564.8" x2="394.5" y2="597.2" stroke="#3c3c3c" stroke-width="1.0" stroke-linecap="butt"/>
<line x1="338.6" y1="571.5" x2="394.5" y2="571.5" stroke="#3c3c3c" stroke-width="1.0" stroke-linecap="butt"/>
<polygon points="338.6,571.4 350.1,568.3 350.1,574.5" fill="#111"/>
<polygon points="394.5,571.4 383.0,568.3 383.0,574.5" fill="#111"/>
<line x1="394.5" y1="571.5" x2="477.4" y2="571.5" stroke="#3c3c3c" stroke-width="1.0" stroke-linecap="butt"/>
<line x1="381.3" y1="590.5" x2="443.4" y2="590.5" stroke="#3c3c3c" stroke-width="1.0" stroke-linecap="butt"/>
<polygon points="394.4,590.4 382.9,587.3 382.9,593.5" fill="#111"/>
<polygon points="412.6,590.4 424.1,587.3 424.1,593.5" fill="#111"/>
<line x1="412.5" y1="586.9" x2="412.5" y2="603.8" stroke="#3c3c3c" stroke-width="1.0" stroke-linecap="butt"/>
<line x1="452.5" y1="585.4" x2="452.5" y2="638" stroke="#3c3c3c" stroke-width="1.0" stroke-linecap="butt"/>
<polygon points="452.1,597.2 449.0,585.7 455.20000000000005,585.7" fill="#111"/>
<polygon points="452.1,609.1 449.0,620.6 455.20000000000005,620.6" fill="#111"/>
<text transform="translate(208.0 118.6) scale(1.08 1)" font-size="14.1">~260</text>
<text transform="translate(223.5 182.3) scale(1.08 1)" font-size="14.1">~201</text>
<text transform="translate(209.4 203.4) scale(1.08 1)" font-size="14.1">~230,5</text>
<text transform="translate(134.4 231.6) rotate(-90) scale(1.08 1)" font-size="14.1">301</text>
<text transform="translate(153.7 239.9) rotate(-90) scale(1.08 1)" font-size="14.1">267</text>
<text transform="translate(244.9 284.8) rotate(-90) scale(1.125 1)" font-size="14.1">max. 38</text>
<text transform="translate(196.2 406.4) rotate(-90) scale(1.08 1)" font-size="14.1">~730</text>
<text transform="translate(245 342.2) scale(1.08 1)" font-size="14.1">Ø32</text>
<text transform="translate(232.6 396.7) scale(1.08 1)" font-size="14.1">M15x1</text>
<text transform="translate(194.3 496.2) scale(1.08 1)" font-size="14.1">2 x G3/8</text>
<text transform="translate(445.2 191.8) scale(1.08 1)" font-size="14.1">~77</text>
<text transform="translate(422.8 304) scale(1.08 1)" font-size="14.1">Ø48</text>
<text transform="translate(433 444.4) scale(1.08 1)" font-size="14.1">Ø6.6</text>
<text transform="translate(354.4 530.2) scale(1.08 1)" font-size="14.1">250</text>
<text transform="translate(418.3 568.4) scale(1.105 1)" font-size="14.1">max.150</text>
<text transform="translate(426.8 587.6) scale(1.08 1)" font-size="14.1">50</text>
<text transform="translate(448.8 636.9) rotate(-90) scale(1.08 1)" font-size="14.1">~32</text>
<text transform="translate(299.8 600.4) rotate(-90) scale(1.08 1)" font-size="14.1">Ø50</text>
</svg>
</body></html>
